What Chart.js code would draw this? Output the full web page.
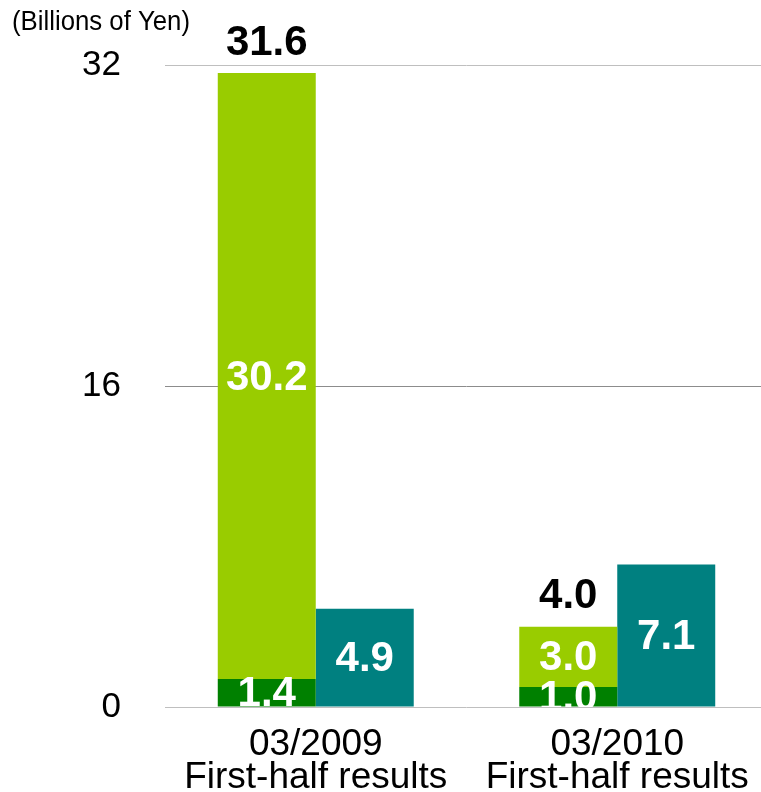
<!DOCTYPE html>
<html>
<head>
<meta charset="utf-8">
<script src="https://cdn.jsdelivr.net/npm/chart.js@4"></script>
<style>
  html, body { margin: 0; padding: 0; background: #fff; overflow: hidden; }
  #wrap { width: 768px; height: 792px; }
</style>
</head>
<body>
<div id="wrap"><canvas id="chart" width="768" height="792"></canvas></div>
<script>
const categories = [['03/2009', 'First-half results'], ['03/2010', 'First-half results']];
const darkGreenValues = [1.4, 1.0];
const lightGreenValues = [30.2, 3.0];
const tealValues = [4.9, 7.1];
const yTicks = [0, 16, 32];
const unitLabel = '(Billions of Yen)';

const FONT = "'Liberation Sans', Arial, sans-serif";

// draws the numbers inside the bars, the stack totals and the unit label
const labelPlugin = {
  id: 'barLabels',
  afterDatasetsDraw(chart) {
    const ctx = chart.ctx;
    const area = chart.chartArea;
    ctx.save();
    ctx.font = 'bold 42px ' + FONT;
    ctx.textAlign = 'center';
    ctx.textBaseline = 'middle';

    ctx.save();
    ctx.beginPath();
    ctx.rect(area.left, area.top - 80, area.right - area.left, area.bottom - area.top + 80);
    ctx.clip();
    ctx.fillStyle = '#fff';
    chart.data.datasets.forEach((ds, i) => {
      chart.getDatasetMeta(i).data.forEach((bar, j) => {
        const mid = (bar.y + bar.base) / 2 + 2;
        ctx.fillText(ds.data[j].toFixed(1), bar.x, mid);
      });
    });
    ctx.restore();

    // totals above the stacked bar
    ctx.fillStyle = '#000';
    const topMeta = chart.getDatasetMeta(1);
    topMeta.data.forEach((bar, j) => {
      const total = darkGreenValues[j] + lightGreenValues[j];
      ctx.fillText(total.toFixed(1), bar.x, bar.y - 30);
    });

    // unit label, a bit condensed like the original
    ctx.font = '27px ' + FONT;
    ctx.textAlign = 'left';
    const w = ctx.measureText(unitLabel).width;
    ctx.translate(12, 23);
    ctx.scale(178 / w, 1);
    ctx.fillText(unitLabel, 0, 0);
    ctx.restore();
  }
};

new Chart(document.getElementById('chart'), {
  type: 'bar',
  data: {
    labels: categories,
    datasets: [
      {
        label: 'dark',
        data: darkGreenValues,
        backgroundColor: '#008000',
        stack: 'a'
      },
      {
        label: 'light',
        data: lightGreenValues,
        backgroundColor: '#99cc00',
        stack: 'a'
      },
      {
        label: 'teal',
        data: tealValues,
        backgroundColor: '#008080',
        stack: 'b'
      }
    ]
  },
  options: {
    responsive: false,
    animation: false,
    layout: { padding: { top: 65, right: 0, bottom: 0, left: 0 } },
    datasets: {
      bar: { categoryPercentage: 0.65, barPercentage: 1.0 }
    },
    plugins: {
      legend: { display: false },
      tooltip: { enabled: false }
    },
    scales: {
      x: {
        grid: { display: false },
        border: { display: false },
        ticks: {
          color: '#000',
          font: { family: FONT, size: 37, lineHeight: 0.9 },
          padding: 13,
          maxRotation: 0
        },
        afterFit: s => { s.height = 85; }
      },
      y: {
        stacked: true,
        min: 0,
        max: 32,
        afterBuildTicks: s => { s.ticks = yTicks.map(v => ({ value: v })); },
        grid: {
          color: c => (c.tick && c.tick.value === 16 ? '#8c8c8c' : '#bfbfbf'),
          lineWidth: 1,
          drawTicks: false
        },
        border: { display: false },
        ticks: {
          color: '#000',
          font: { family: FONT, size: 35 },
          padding: 44
        },
        afterFit: s => { s.width = 165; }
      }
    }
  },
  plugins: [labelPlugin]
});
</script>
</body>
</html>
